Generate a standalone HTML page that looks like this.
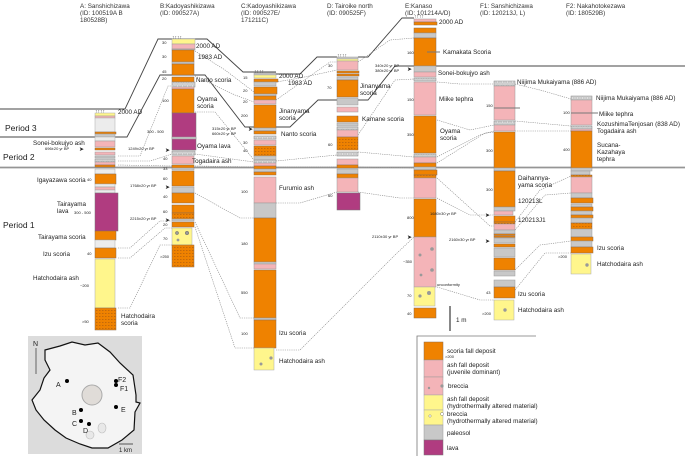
<!DOCTYPE html>
<html><head><meta charset="utf-8"><style>
html,body{margin:0;padding:0;background:#fff}
svg{display:block;font-family:"Liberation Sans",sans-serif}
.o{fill:#ef8200;stroke:#8a6a50;stroke-width:.5}
.p{fill:#f4b4b8;stroke:#999;stroke-width:.5}
.m{fill:#b03c80;stroke:#777;stroke-width:.5}
.g{fill:#c8c8c8;stroke:#999;stroke-width:.5}
.l{fill:#ececec;stroke:#aaa;stroke-width:.5}
.y{fill:#fff68c;stroke:#aaa;stroke-width:.5}
.h{fill:url(#hat);stroke:#8a6a50;stroke-width:.5}
.q{fill:url(#pum);stroke:#888;stroke-width:.5}
.d{fill:none;stroke:#888;stroke-width:.6;stroke-dasharray:1.2 1}
.pl{fill:none;stroke:#444;stroke-width:.9}
text{fill:#222}
.t{font-size:6.3px}
.s{font-size:4px}
.hd{font-size:6.3px;fill:#333}
</style></head><body>
<svg width="685" height="456" viewBox="0 0 685 456" xmlns="http://www.w3.org/2000/svg">
<defs>
<pattern id="hat" width="3" height="3" patternUnits="userSpaceOnUse"><rect width="3" height="3" fill="#ef8200"/><rect x="0" y="1" width="1.5" height=".6" fill="#a85a10"/></pattern>
<pattern id="pum" width="5" height="4" patternUnits="userSpaceOnUse"><rect width="5" height="4" fill="#d0d0d0"/><ellipse cx="2.5" cy="2" rx="1.4" ry=".9" fill="#fff" stroke="#888" stroke-width=".3"/></pattern>
</defs>

<!-- headers -->
<text class="hd" x="80" y="8">A: Sanshichizawa</text><text class="hd" x="80" y="15">(ID: 100519A B</text><text class="hd" x="80" y="22">180528B)</text>
<text class="hd" x="160" y="8">B:Kadoyashikizawa</text><text class="hd" x="160" y="15">(ID: 090527A)</text>
<text class="hd" x="241" y="8">C:Kadoyashikizawa</text><text class="hd" x="241" y="15">(ID: 090527E/</text><text class="hd" x="241" y="22">171211C)</text>
<text class="hd" x="327" y="8">D: Tairoike north</text><text class="hd" x="327" y="15">(ID: 090525F)</text>
<text class="hd" x="405" y="8">E:Kanaso</text><text class="hd" x="405" y="15">(ID: 101214A/D)</text>
<text class="hd" x="480" y="8">F1: Sanshichizawa</text><text class="hd" x="480" y="15">(ID: 120213J, L)</text>
<text class="hd" x="566" y="8">F2: Nakahotokezawa</text><text class="hd" x="566" y="15">(ID: 180529B)</text>

<!-- period lines -->
<polyline class="pl" points="0,109 125,109 158,39 207,39 243,72 276,72"/>
<polyline class="pl" points="276,74 300,74 317,57 337,57"/>
<polyline class="pl" points="358,57 368,57 402,18 414,18"/>
<polyline class="pl" points="0,137 127,137 160,75 205,75 245,127 290,127 318,100 337,100"/>
<polyline class="pl" points="358,100 368,100 395,66 685,66"/>
<line x1="0" y1="167.5" x2="685" y2="167.5" stroke="#666" stroke-width="1.6"/>
<line x1="0" y1="167.5" x2="685" y2="167.5" stroke="#ddd" stroke-width=".4"/>
<text x="5" y="131" font-size="8.5">Period 3</text>
<text x="3" y="160" font-size="8.5">Period 2</text>
<text x="3" y="228" font-size="8.5">Period 1</text>

<!-- dotted connectors -->
<polyline class="d" points="118,156 140,156 168,86 172,86"/>
<polyline class="d" points="118,161 150,161 172,154"/>
<polyline class="d" points="118,165 172,166"/>
<polyline class="d" points="195,51 225,70 254,92"/>
<polyline class="d" points="195,76 235,95 254,102"/>
<polyline class="d" points="195,112 215,112 254,160"/>
<polyline class="d" points="195,154 254,162"/>
<polyline class="d" points="195,166 254,167"/>
<polyline class="d" points="195,193 240,218 254,218"/>
<polyline class="d" points="118,248 130,248 160,221 172,221"/>
<polyline class="d" points="118,258 130,258 165,228 172,228"/>
<polyline class="d" points="118,308 130,308 160,245 172,245"/>
<polyline class="d" points="195,222 240,318 254,318"/>
<polyline class="d" points="195,227 235,348 254,348"/>
<polyline class="d" points="276,100 330,62 337,62"/>
<polyline class="d" points="276,82 300,78 337,70"/>
<polyline class="d" points="276,161 337,155"/>
<polyline class="d" points="276,167 337,167"/>
<polyline class="d" points="276,203 300,203 337,192"/>
<polyline class="d" points="276,350 300,350 395,255 414,237"/>
<polyline class="d" points="358,62 390,40 414,38"/>
<polyline class="d" points="358,135 395,80 414,79"/>
<polyline class="d" points="358,152 414,157"/>
<polyline class="d" points="358,167 414,168"/>
<polyline class="d" points="358,192 400,198 414,198"/>
<polyline class="d" points="437,82 460,84 494,84"/>
<polyline class="d" points="437,120 470,130 494,125"/>
<polyline class="d" points="437,157 480,135 494,131"/>
<polyline class="d" points="437,163 485,133 494,132"/>
<polyline class="d" points="437,178 490,226 494,226"/>
<polyline class="d" points="437,198 470,215 494,215"/>
<polyline class="d" points="437,287 480,300 494,300"/>
<polyline class="d" points="515,84 540,90 571,99"/>
<polyline class="d" points="515,121 571,126"/>
<polyline class="d" points="515,131 571,131"/>
<polyline class="d" points="515,222 540,190 571,176"/>
<polyline class="d" points="515,230 545,195 571,193"/>
<polyline class="d" points="515,270 540,245 571,241"/>
<polyline class="d" points="515,290 545,253 571,253"/>

<!-- Column A -->
<text x="95" y="113" font-size="5">↑↑↑↑</text>
<rect class="y" x="95" y="113" width="20" height="3"/><rect class="p" x="95" y="116" width="20" height="2"/>
<rect class="l" x="95" y="118" width="20" height="14"/><rect class="o" x="95" y="132" width="21" height="2"/>
<rect class="g" x="95" y="134" width="20" height="3"/><rect class="l" x="95" y="137" width="20" height="4"/>
<rect class="p" x="95" y="141" width="20" height="6"/><rect class="o" x="95" y="148" width="20" height="2"/>
<rect class="p" x="95" y="152" width="20" height="3"/><rect class="g" x="95" y="156" width="20" height="2"/>
<rect class="q" x="95" y="159" width="20" height="3"/><rect class="p" x="95" y="162" width="20" height="3"/>
<rect class="o" x="95" y="165" width="20" height="2"/><rect class="l" x="95" y="169" width="20" height="5"/>
<rect class="o" x="95" y="174" width="21" height="10"/><rect class="l" x="95" y="184" width="20" height="3"/>
<rect class="p" x="95" y="187" width="20" height="3"/><rect class="l" x="95" y="190" width="20" height="3"/>
<rect class="m" x="95" y="193" width="23" height="38"/>
<rect class="o" x="95" y="231" width="21" height="9"/><rect class="l" x="95" y="240" width="20" height="8"/>
<rect class="o" x="95" y="248" width="21" height="10"/>
<rect class="y" x="95" y="259" width="20" height="49"/><rect class="h" x="95" y="308" width="21" height="22"/>
<text class="t" x="118" y="114">2000 AD</text>
<text class="t" x="33" y="145">Sonei-bokujyo ash</text><text class="s" x="45" y="150">696±20 yr BP</text>
<text x="79" y="151" font-size="6">➤</text>
<text class="t" x="37" y="182">Igayazawa scoria</text><text class="s" x="87" y="181">40</text>
<text class="t" x="57" y="206">Tairayama</text><text class="t" x="57" y="213">lava</text><text class="s" x="74" y="214">300 - 500</text>
<text class="t" x="38" y="239">Tairayama scoria</text>
<text class="t" x="43" y="256">Izu scoria</text><text class="s" x="87" y="255">40</text>
<text class="t" x="33" y="280">Hatchodaira ash</text><text class="s" x="80" y="287">~200</text>
<text class="t" x="121" y="318">Hatchodaira</text><text class="t" x="121" y="325">scoria</text><text class="s" x="82" y="323">&gt;50</text>

<!-- Column B -->
<text x="172" y="39" font-size="5">↑↑↑↑</text>
<rect class="y" x="172" y="39" width="23" height="5"/><rect class="p" x="172" y="44" width="23" height="5"/>
<rect class="g" x="172" y="49" width="23" height="1"/><rect class="o" x="172" y="50" width="22" height="12"/>
<rect class="g" x="172" y="62" width="22" height="2"/><rect class="o" x="172" y="64" width="22" height="11"/>
<rect class="o" x="172" y="77" width="22" height="5"/><rect class="q" x="172" y="82" width="23" height="5"/>
<rect class="p" x="172" y="87" width="22" height="2"/><rect class="o" x="172" y="89" width="22" height="24"/>
<rect class="m" x="172" y="113" width="24" height="37"/><rect class="g" x="172" y="137" width="24" height="2"/>
<rect class="q" x="172" y="151" width="23" height="4"/><rect class="p" x="172" y="156" width="22" height="8"/>
<rect class="o" x="172" y="165" width="22" height="3"/><rect class="g" x="172" y="168" width="22" height="2"/>
<rect class="o" x="172" y="171" width="22" height="15"/><rect class="g" x="172" y="187" width="22" height="6"/>
<rect class="o" x="172" y="193" width="22" height="10"/><rect class="o" x="172" y="205" width="22" height="8"/>
<rect class="h" x="172" y="213" width="22" height="6"/><rect class="g" x="172" y="219" width="22" height="2"/>
<rect class="o" x="172" y="222" width="22" height="5"/>
<rect class="y" x="172" y="228" width="20" height="17"/>
<circle cx="177" cy="233" r="1.6" fill="#999" stroke="#555" stroke-width=".4"/><circle cx="187" cy="233" r="1.8" fill="#999" stroke="#555" stroke-width=".4"/><circle cx="178" cy="240" r="1.4" fill="#999"/>
<rect class="h" x="172" y="245" width="22" height="22"/>
<text class="s" x="162" y="44">30</text><text class="s" x="162" y="58">30</text><text class="s" x="162" y="73">45</text><text class="s" x="162" y="80">20</text>
<text class="s" x="162" y="102">100</text><text class="s" x="147" y="133">300 - 500</text><text class="s" x="163" y="160">40</text><text class="s" x="163" y="170">33</text>
<text class="s" x="163" y="180">60</text><text class="s" x="163" y="198">40</text><text class="s" x="163" y="213">60</text><text class="s" x="163" y="226">20</text><text class="s" x="163" y="240">70</text><text class="s" x="160" y="258">&gt;250</text>
<text class="t" x="196" y="48">2000 AD</text><text class="t" x="198" y="59">1983 AD</text>
<text class="t" x="196" y="82">Nanto scoria</text>
<text class="t" x="197" y="101">Oyama</text><text class="t" x="197" y="108">scoria</text>
<text class="t" x="197" y="148">Oyama lava</text>
<text class="t" x="192" y="163">Togadaira ash</text>
<text class="s" x="128" y="150">1249±20 yr BP</text><text x="165" y="152" font-size="6">➤</text>
<text class="s" x="130" y="187">1768±20 yr BP</text><text x="165" y="189" font-size="6">➤</text>
<text class="s" x="130" y="220">2215±20 yr BP</text><text x="165" y="222" font-size="6">➤</text>

<!-- Column C -->
<text x="254" y="73" font-size="5">↑↑↑↑</text>
<rect class="g" x="254" y="73" width="22" height="2"/><rect class="y" x="254" y="75" width="22" height="3"/>
<rect class="o" x="254" y="79" width="24" height="3"/><rect class="g" x="254" y="82" width="22" height="4"/>
<rect class="o" x="254" y="87" width="23" height="7"/><rect class="g" x="254" y="94" width="22" height="2"/>
<rect class="o" x="254" y="96" width="22" height="4"/><rect class="p" x="254" y="100" width="22" height="4"/>
<rect class="o" x="254" y="105" width="22" height="23"/><rect class="g" x="254" y="128" width="22" height="3"/>
<rect class="o" x="254" y="131" width="22" height="3"/><rect class="q" x="254" y="136" width="22" height="3"/>
<rect class="p" x="254" y="140" width="22" height="5"/><rect class="h" x="254" y="146" width="22" height="10"/>
<rect class="g" x="254" y="156" width="22" height="4"/><rect class="q" x="254" y="160" width="22" height="3"/>
<rect class="p" x="254" y="163" width="22" height="3"/><rect class="o" x="254" y="166" width="22" height="3"/>
<rect class="g" x="254" y="169" width="22" height="3"/><rect class="o" x="254" y="172" width="22" height="3"/>
<rect class="p" x="254" y="177" width="22" height="26"/><rect class="g" x="254" y="203" width="22" height="15"/>
<rect class="o" x="254" y="218" width="22" height="44"/><rect class="g" x="254" y="262" width="22" height="2"/>
<rect class="p" x="254" y="264" width="22" height="5"/><rect class="o" x="254" y="270" width="22" height="48"/>
<rect class="g" x="254" y="318" width="22" height="2"/><rect class="o" x="254" y="320" width="22" height="28"/>
<rect class="y" x="254" y="348" width="20" height="22"/>
<circle cx="261" cy="364" r="1.5" fill="#999"/><circle cx="271" cy="358" r="1.6" fill="#999"/>
<text class="t" x="279" y="78">2000 AD</text><text class="t" x="288" y="85">1983 AD</text>
<text class="t" x="279" y="113">Jinanyama</text><text class="t" x="279" y="120">scoria</text>
<text class="t" x="281" y="136">Nanto scoria</text>
<text class="t" x="279" y="190">Furumio ash</text>
<text class="t" x="279" y="335">Izu scoria</text>
<text class="t" x="279" y="363">Hatchodaira ash</text>
<text class="s" x="212" y="130">315±20 yr BP</text><text x="248" y="131" font-size="6">➤</text>
<text class="s" x="212" y="135">660±20 yr BP</text>
<text class="s" x="243" y="79">15</text><text class="s" x="243" y="92">20</text><text class="s" x="243" y="103">20</text><text class="s" x="241" y="117">200</text>
<text class="s" x="243" y="144">30</text><text class="s" x="243" y="152">40</text><text class="s" x="241" y="193">100</text><text class="s" x="241" y="245">180</text><text class="s" x="241" y="294">550</text><text class="s" x="241" y="335">100</text>

<!-- Column D -->
<text x="337" y="57" font-size="5">↑↑↑↑</text>
<rect class="g" x="337" y="57" width="21" height="2"/><rect class="y" x="337" y="59" width="21" height="2"/>
<rect class="p" x="337" y="61" width="21" height="9"/><rect class="o" x="337" y="71" width="22" height="2"/>
<rect class="o" x="337" y="74" width="22" height="2"/><rect class="g" x="337" y="77" width="21" height="3"/>
<rect class="o" x="337" y="80" width="21" height="17"/><rect class="g" x="337" y="98" width="21" height="7"/>
<rect class="p" x="337" y="107" width="21" height="5"/><rect class="o" x="337" y="116" width="21" height="6"/>
<rect class="g" x="337" y="123" width="21" height="3"/><rect class="q" x="337" y="127" width="21" height="3"/>
<rect class="p" x="337" y="130" width="21" height="7"/><rect class="h" x="337" y="137" width="21" height="13"/>
<rect class="q" x="337" y="152" width="21" height="4"/><rect class="p" x="337" y="159" width="21" height="6"/>
<rect class="o" x="337" y="165" width="21" height="3"/><rect class="g" x="337" y="169" width="21" height="5"/>
<rect class="o" x="337" y="174" width="21" height="4"/><rect class="p" x="337" y="178" width="21" height="14"/>
<rect class="m" x="337" y="193" width="23" height="17"/>
<text class="t" x="360" y="88">Jinanyama</text><text class="t" x="360" y="95">scoria</text>
<text class="t" x="362" y="121">Kamane scoria</text>
<text class="s" x="328" y="67">30</text><text class="s" x="327" y="89">70</text><text class="s" x="328" y="146">60</text><text class="s" x="328" y="197">60</text>

<!-- Column E -->
<text x="414" y="18" font-size="5">↑↑↑↑</text>
<rect class="p" x="414" y="19" width="22" height="3"/><rect class="o" x="414" y="22" width="23" height="3"/>
<rect class="o" x="414" y="28" width="22" height="5"/><rect class="g" x="414" y="33" width="22" height="5"/>
<rect class="o" x="414" y="38" width="22" height="28"/><rect class="g" x="414" y="66" width="22" height="6"/>
<rect class="p" x="414" y="72" width="22" height="5"/><rect class="q" x="414" y="78" width="22" height="3"/>
<rect class="p" x="414" y="82" width="22" height="33"/><rect class="o" x="414" y="116" width="22" height="37"/>
<rect class="q" x="414" y="154" width="22" height="3"/><rect class="p" x="414" y="157" width="22" height="6"/>
<rect class="o" x="414" y="163" width="22" height="4"/><rect class="g" x="414" y="167" width="22" height="3"/>
<rect class="o" x="414" y="170" width="23" height="5"/><rect class="h" x="414" y="175" width="22" height="3"/>
<rect class="p" x="414" y="178" width="22" height="20"/><rect class="o" x="414" y="199" width="22" height="38"/>
<rect class="p" x="414" y="237" width="22" height="50"/>
<circle cx="420" cy="255" r="1.5" fill="#999"/><circle cx="432" cy="249" r="1.8" fill="#999"/><circle cx="432" cy="270" r="1.8" fill="#999"/><circle cx="421" cy="275" r="1.4" fill="#999"/>
<rect class="y" x="414" y="287" width="21" height="19"/><circle cx="420" cy="296" r="1.6" fill="#999"/><circle cx="429" cy="293" r="2" fill="#999"/>
<rect class="o" x="414" y="308" width="22" height="10"/>
<line x1="427" y1="52" x2="440" y2="52" stroke="#777" stroke-width="1"/>
<text class="t" x="439" y="24">2000 AD</text>
<text class="t" x="443" y="54">Kamakata Scoria</text>
<text class="t" x="438" y="75">Sonei-bokujyo ash</text>
<text class="t" x="439" y="101">Miike tephra</text>
<text class="t" x="440" y="133">Oyama</text><text class="t" x="440" y="140">scoria</text>
<text class="s" x="375" y="67">340±20 yr BP</text><text class="s" x="375" y="72">380±20 yr BP</text><text x="407" y="71" font-size="6">➤</text>
<text class="s" x="372" y="238">2110±30 yr BP</text><text x="407" y="239" font-size="6">➤</text>
<text class="s" x="437" y="286">unconformity</text>
<text class="s" x="407" y="54">160</text><text class="s" x="407" y="101">150</text><text class="s" x="407" y="136">350</text><text class="s" x="407" y="219">800</text><text class="s" x="403" y="263">~350</text><text class="s" x="407" y="297">70</text><text class="s" x="407" y="315">40</text>
<line x1="450" y1="306" x2="450" y2="331" stroke="#111" stroke-width="1"/><text class="t" x="456" y="322">1 m</text>

<!-- Column F1 -->
<rect class="q" x="494" y="81" width="21" height="5"/><rect class="p" x="494" y="86" width="21" height="34"/>
<line x1="494" y1="108" x2="520" y2="108" stroke="#777" stroke-width="1"/>
<rect class="q" x="494" y="121" width="21" height="4"/><rect class="p" x="494" y="125" width="21" height="6"/>
<rect class="o" x="494" y="132" width="21" height="36"/><rect class="g" x="494" y="168" width="21" height="3"/>
<rect class="o" x="494" y="171" width="21" height="36"/><rect class="g" x="494" y="207" width="21" height="4"/>
<rect class="p" x="494" y="211" width="19" height="4"/><rect class="o" x="494" y="216" width="21" height="6"/>
<rect class="h" x="494" y="222" width="21" height="2"/><rect class="p" x="494" y="224" width="21" height="6"/>
<rect class="g" x="494" y="230" width="21" height="4"/><rect class="o" x="494" y="234" width="21" height="1.5"/>
<rect class="o" x="494" y="236" width="21" height="1.5"/><rect class="g" x="494" y="238" width="21" height="5"/>
<rect class="o" x="494" y="244" width="21" height="3"/><rect class="g" x="494" y="248" width="21" height="9"/>
<rect class="o" x="494" y="258" width="21" height="12"/><rect class="g" x="494" y="271" width="21" height="5"/>
<rect class="g" x="494" y="280" width="21" height="7"/><rect class="o" x="494" y="287" width="21" height="11"/>
<rect class="y" x="494" y="300" width="20" height="20"/><circle cx="505" cy="310" r="1.7" fill="#999"/>
<text class="t" x="517" y="84">Niijima Mukaiyama (886 AD)</text>
<text class="t" x="518" y="180">Daihannya-</text><text class="t" x="518" y="187">yama scoria</text>
<text class="t" x="518" y="203">120213L</text><text class="t" x="518" y="222">120213J1</text>
<text class="t" x="518" y="296">Izu scoria</text><text class="t" x="518" y="312">Hatchodaira ash</text>
<text class="s" x="430" y="215">1680±30 yr BP</text><text x="485" y="217" font-size="6">➤</text>
<text class="s" x="449" y="241">2160±30 yr BP</text><text x="485" y="243" font-size="6">➤</text>
<text class="s" x="486" y="107">150</text><text class="s" x="486" y="152">300</text><text class="s" x="486" y="191">300</text><text class="s" x="486" y="294">43</text><text class="s" x="482" y="315">&gt;200</text>

<!-- Column F2 -->
<rect class="q" x="571" y="96" width="21" height="4"/><rect class="p" x="571" y="100" width="21" height="25"/>
<line x1="571" y1="113" x2="598" y2="113" stroke="#777" stroke-width="1"/>
<rect class="q" x="571" y="126" width="21" height="3"/><rect class="p" x="571" y="129" width="21" height="2"/>
<rect class="o" x="571" y="131" width="21" height="37"/><rect class="g" x="571" y="168" width="21" height="3"/>
<rect class="g" x="571" y="171" width="19" height="4"/><rect class="h" x="571" y="175" width="21" height="2"/>
<rect class="p" x="571" y="177" width="21" height="16"/><rect class="g" x="571" y="193" width="21" height="5"/>
<rect class="o" x="571" y="198" width="22" height="5"/><rect class="g" x="571" y="204" width="21" height="3"/>
<rect class="o" x="571" y="207" width="22" height="4"/><rect class="g" x="571" y="211" width="21" height="4"/>
<rect class="o" x="571" y="215" width="22" height="3"/><rect class="g" x="571" y="218" width="21" height="5"/>
<rect class="h" x="571" y="223" width="21" height="6"/><rect class="g" x="571" y="229" width="21" height="8"/>
<rect class="o" x="571" y="237" width="22" height="4"/><rect class="g" x="571" y="241" width="21" height="6"/>
<rect class="o" x="571" y="247" width="22" height="6"/><rect class="y" x="571" y="254" width="20" height="20"/>
<circle cx="587" cy="265" r="1.7" fill="#999"/>
<text class="t" x="596" y="100">Niijima Mukaiyama (886 AD)</text>
<text class="t" x="599" y="116">Miike tephra</text>
<text class="t" x="597" y="126">KozushimaTenjosan (838 AD)</text>
<text class="t" x="597" y="133">Togadaira ash</text>
<text class="t" x="597" y="147">Sucana-</text><text class="t" x="597" y="154">Kazahaya</text><text class="t" x="597" y="161">tephra</text>
<text class="t" x="597" y="250">Izu scoria</text><text class="t" x="597" y="266">Hatchodaira ash</text>
<text class="s" x="563" y="114">100</text><text class="s" x="563" y="151">400</text><text class="s" x="558" y="258">&gt;200</text>

<!-- map -->
<rect x="28" y="336" width="114" height="118" fill="#dcdcdc"/>
<path d="M45,350 L60,346 L72,342 L85,345 L98,343 L110,352 L120,363 L133,375 L136,395 L136,402 L140,403 L135,412 L134,430 L122,440 L108,448 L92,448 L80,444 L66,438 L55,430 L44,420 L36,410 L32,400 L40,390 L44,378 L50,370 L45,360 Z" fill="#f4f4f4" stroke="#111" stroke-width="1.2"/>
<circle cx="92" cy="395" r="10" fill="#e0dcd8" stroke="#aaa" stroke-width="1"/>
<ellipse cx="102" cy="428" rx="4" ry="5" fill="#e8e8e8" stroke="#bbb" stroke-width=".6"/>
<ellipse cx="90" cy="435" rx="4" ry="4" fill="#e8e8e8" stroke="#bbb" stroke-width=".6"/>
<text x="33" y="346" font-size="7">N</text><line x1="36" y1="348" x2="36" y2="374" stroke="#777" stroke-width="1.2"/>
<circle cx="67" cy="381" r="2" fill="#000"/><text x="56" y="387" font-size="7">A</text>
<circle cx="116" cy="381" r="2" fill="#000"/><circle cx="116" cy="385" r="2" fill="#000"/><text x="118" y="382" font-size="7">F2</text><text x="120" y="391" font-size="7">F1</text>
<circle cx="116" cy="407" r="2" fill="#000"/><text x="121" y="412" font-size="7">E</text>
<circle cx="81" cy="410" r="2" fill="#000"/><text x="72" y="415" font-size="7">B</text>
<circle cx="81" cy="421" r="2" fill="#000"/><text x="72" y="426" font-size="7">C</text>
<circle cx="89" cy="424" r="2" fill="#000"/><text x="83" y="433" font-size="7">D</text>
<line x1="119" y1="444" x2="133" y2="444" stroke="#555" stroke-width="1"/><text x="119" y="452" font-size="6">1 km</text>

<!-- legend -->
<polyline points="417,456 417,336 536,336" fill="none" stroke="#777" stroke-width=".8"/>
<rect class="o" x="424" y="342" width="19" height="18"/>
<rect class="p" x="424" y="360" width="19" height="17"/>
<rect class="p" x="424" y="377" width="19" height="18"/><circle cx="429" cy="388" r="1.2" fill="#999"/><circle cx="442" cy="386" r="1.6" fill="#999"/>
<rect class="y" x="424" y="395" width="19" height="15"/>
<rect class="y" x="424" y="410" width="19" height="15"/><circle cx="430" cy="416" r="1.2" fill="#fff" stroke="#666" stroke-width=".4"/><circle cx="442" cy="414" r="1.5" fill="#fff" stroke="#666" stroke-width=".4"/>
<rect class="g" x="424" y="425" width="19" height="15"/>
<rect class="m" x="424" y="440" width="19" height="15"/>
<text class="t" x="447" y="353">scoria fall deposit</text><text class="s" x="445" y="358">&gt;200</text>
<text class="t" x="447" y="367">ash fall deposit</text><text class="t" x="447" y="374">(juvenile dominant)</text>
<text class="t" x="448" y="388">breccia</text>
<text class="t" x="447" y="401">ash fall deposit</text><text class="t" x="447" y="408">(hydrothermally altered material)</text>
<text class="t" x="447" y="416">breccia</text><text class="t" x="447" y="423">(hydrothermally altered material)</text>
<text class="t" x="447" y="435">paleosol</text>
<text class="t" x="447" y="450">lava</text>
</svg>
</body></html>
